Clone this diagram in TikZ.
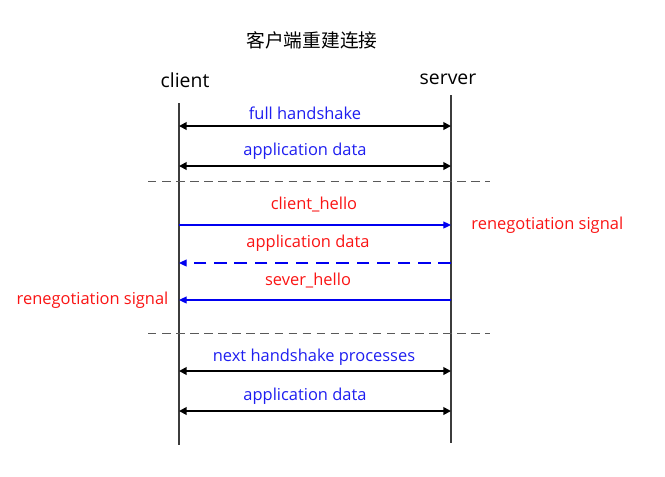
\documentclass[tikz,border=0pt]{standalone}
\usepackage{fontspec}
\setmainfont{Open Sans}
\newfontfamily\cjk{Noto Sans CJK SC}
\usetikzlibrary{arrows.meta, positioning, calc}
\definecolor{msgblue}{RGB}{30,30,240}
\definecolor{msgred}{RGB}{250,20,20}
\definecolor{lineblue}{RGB}{0,0,240}
\definecolor{lifegray}{RGB}{60,60,60}
\tikzset{
  lifeline/.style={draw=lifegray, line width=1.1pt},
  duplex/.style={{Triangle[length=5.5pt,width=5.5pt]}-{Triangle[length=5.5pt,width=5.5pt]}, line width=1.3pt, black},
  signal/.style={-{Triangle[length=5.5pt,width=5pt]}, line width=0.9pt, lineblue},
  divider/.style={draw=black!65, line width=0.7pt, dash pattern=on 6pt off 4pt},
  bluetext/.style={text=msgblue, font=\fontsize{11.7}{13}\selectfont},
  redtext/.style={text=msgred, font=\fontsize{11.7}{13}\selectfont},
  role/.style={font=\fontsize{13.8}{15}\selectfont}
}
\begin{document}
\begin{tikzpicture}[x=0.025cm,y=-0.025cm]
\useasboundingbox (0,0) rectangle (665,476);

% Title and roles
\node[font=\cjk\fontsize{13.3}{15}\selectfont] (title) at (312,40) {客户端重建连接};
\node[role] (client) at (185,80) {client};
\node[role] (server) at (448,79) {server};

% Lifelines
\coordinate (ctop) at (179,103);
\coordinate (cbot) at (179,445);
\coordinate (stop) at (451,95);
\coordinate (sbot) at (451,443);
\draw[lifeline] (ctop) -- (cbot);
\draw[lifeline] (stop) -- (sbot);

% First handshake
\coordinate (c1) at (179,126); \coordinate (s1) at (451,126);
\coordinate (c2) at (179,166); \coordinate (s2) at (451,166);
\draw[duplex] (c1) -- (s1);
\draw[duplex] (c2) -- (s2);
\node[bluetext] (fullhs) at (305,113) {full handshake};
\node[bluetext] (appdataA) at (305,151) {application data};

% Separators
\coordinate (d1l) at (148,181); \coordinate (d1r) at (490,181);
\coordinate (d2l) at (148,333); \coordinate (d2r) at (490,333);
\draw[divider] (d1l) -- (d1r);
\draw[divider] (d2l) -- (d2r);

% Renegotiation
\coordinate (c3) at (179,225); \coordinate (s3) at (451,225);
\coordinate (c4) at (179,263); \coordinate (s4) at (451,263);
\coordinate (c5) at (179,300); \coordinate (s5) at (451,300);
\draw[signal] (c3) -- (s3);
\draw[signal, dash pattern=on 9pt off 5.5pt] (s4) -- (c4);
\draw[signal] (s5) -- (c5);
\node[redtext] (chello) at (314,205) {client\_hello};
\node[redtext] (appdataB) at (308,243) {application data};
\node[redtext] (shello) at (308,281) {sever\_hello};
\node[redtext, right=11pt of s3] (sigR) {renegotiation signal};
\node[redtext, left=4pt of c5] (sigL) {renegotiation signal};

% Next handshake
\coordinate (c6) at (179,371); \coordinate (s6) at (451,371);
\coordinate (c7) at (179,411); \coordinate (s7) at (451,411);
\draw[duplex] (c6) -- (s6);
\draw[duplex] (c7) -- (s7);
\node[bluetext] (nexths) at (314,357) {next handshake processes};
\node[bluetext] (appdataC) at (305,396) {application data};
\end{tikzpicture}
\end{document}
